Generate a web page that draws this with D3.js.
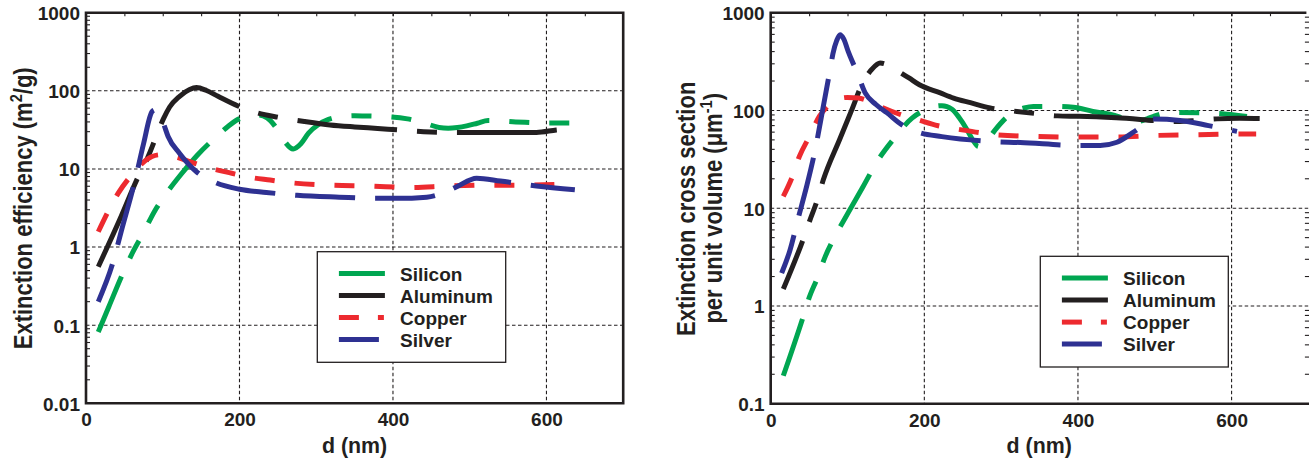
<!DOCTYPE html>
<html><head><meta charset="utf-8">
<script src="https://cdn.jsdelivr.net/npm/d3@7"></script>
<style>
body{margin:0;background:#fff}
svg text{font-family:"Liberation Sans",Arial,Helvetica,sans-serif;font-weight:bold;fill:#231f20}
</style></head>
<body><svg id="chart" width="1309" height="461"></svg>
<script>
// ---------- data ----------
const seriesNames = ["Silicon", "Aluminum", "Copper", "Silver"];
const xTickValues = [0, 200, 400, 600];
const leftYTicks = [0.01, 0.1, 1, 10, 100, 1000];
const leftYTickLabels = ["0.01", "0.1", "1", "10", "100", "1000"];
const rightYTicks = [0.1, 1, 10, 100, 1000];
const rightYTickLabels = ["0.1", "1", "10", "100", "1000"];

// Left panel: extinction efficiency (m^2/g) vs d (nm)
const effSilicon = [[16,0.082],[30,0.175],[48,0.46],[61,0.86],[74,1.47],[89,2.84],[105,4.9],[125,8.8],[145,15],[170,26],[185,35],[196,42],[210,47],[225,49],[236,45],[246,35.6],[258,23],[270,18],[280,21],[290,28.7],[303,37],[316,43],[335,47],[350,48],[370,47.5],[392,46.8],[419,43.7],[444,37.8],[460,34],[472,33.3],[484,34],[496,35.6],[510,38.5],[524,41.6],[560,40],[600,38.6],[637,38.6]];
const effAluminum = [[16,0.56],[46,2.5],[66,7.2],[81,14.4],[86,19],[92,27],[101,44],[109,62],[122,85],[135,104],[144,110],[157,101],[172,85],[198,64],[224,52],[250,46],[285,40.5],[318,36.6],[350,34.5],[380,33],[407,31.6],[440,30],[470,29.4],[530,29.3],[587,29.3],[613,31.6],[637,33]];
const effCopper = [[16,1.57],[42,4.9],[59.5,8.4],[72,11.5],[86,14.4],[97,15.2],[107,15.1],[120,14],[135.5,12.4],[162,10.2],[190,8.8],[214,7.8],[240,7.2],[264,6.7],[318,6.2],[370,6.05],[422,5.8],[472,6.05],[524,6.2],[574,6.2],[628,6.4]];
const effSilver = [[16,0.2],[35,0.63],[46,1.6],[64,7.2],[75,21],[86,54],[90,57],[96,49],[101,38],[107,26],[122,15.8],[144,9.2],[170,6.6],[200,5.5],[235,5],[275,4.6],[330,4.35],[379,4.2],[405,4.2],[444,4.35],[465,4.9],[483,5.9],[509,7.6],[540,7],[587,6.05],[637,5.4]];

// Right panel: extinction cross section per unit volume (um^-1) vs d (nm)
const csSilicon = [[16.4,0.193],[41.7,0.75],[50.3,1.23],[60.7,1.93],[70.7,3.16],[82.5,4.94],[96.8,7.9],[120,16.5],[140,31.3],[160,51],[184,83.6],[200,100],[210,108],[223,112],[236,103],[245,85],[255,64.6],[263,50],[270.5,42.8],[280,47],[292,63],[314,94],[330,106],[342,110],[366,110],[394,108],[419.5,97.7],[444,90.3],[460,83],[477,77],[490,82],[500,88],[522.5,95.4],[575,94],[620,87]];
const csAluminum = [[16.4,1.49],[41.7,4.67],[51.2,7.6],[60,11.7],[68.5,19.5],[90,51],[105,99],[120.7,198],[132,265],[142.4,305],[155,285],[166.3,251],[180,215],[193.6,183],[220,152],[238,134],[260,120],[285.7,106],[320.5,97.7],[350,92],[373.4,88],[400.8,87],[450,84],[529,77],[555,79],[581,82],[610,83],[636.6,82.8]];
const csCopper = [[16.4,13.2],[27.4,20.3],[37.3,33.8],[50.3,54],[63.3,87],[75,112],[88,131],[100,136],[114,134],[128,124],[140,112],[166,92.5],[192,80],[218,69.7],[242,64.6],[294.5,56.4],[346.6,54.2],[398.7,53.4],[450.8,53.4],[501.6,55.5],[554,56.4],[605.9,57.3],[632,57.3]];
const csSilver = [[14.3,2.17],[25,3.7],[36,8],[47,17],[58,40],[68,105],[78,280],[81,380],[86,520],[90.3,596],[95,540],[101,400],[106,320],[112,251],[123,151],[137,115],[151,95],[170,72],[194.5,59],[222.8,54],[285.7,48.2],[324.8,47],[400.8,43.9],[429,43.9],[450.8,47.3],[475,62],[498.5,81.6],[533,79],[570,70],[607,61]];

// ---------- styles ----------
const ink = "#231f20";
const colors = {Silicon:"#00a651", Aluminum:"#231f20", Copper:"#ed2a2f", Silver:"#2e3192"};
const dashes = {Silicon:"60,20,20,20,20,20", Aluminum:"100,20,20,20", Copper:"20,20", Silver:"60,20"};

const svg = d3.select("#chart");

const panels = [
  {x0:86, x1:623.2, yTop:12.7, yBot:403.3, yDomain:[0.01,1000], yTicks:leftYTicks, yLabels:leftYTickLabels,
   data:{Silicon:effSilicon, Aluminum:effAluminum, Copper:effCopper, Silver:effSilver},
   offsets:{Silicon:0, Aluminum:4, Copper:0, Silver:20},
   legend:{x:317.3, y:251.7, w:188.4, h:110.6}, rightLine:true, rightTicks:false, xTitleX:354.6},
  {x0:770.7, x1:1308.4, yTop:12.7, yBot:403.7, yDomain:[0.1,1000], yTicks:rightYTicks, yLabels:rightYTickLabels,
   data:{Silicon:csSilicon, Aluminum:csAluminum, Copper:csCopper, Silver:csSilver},
   offsets:{Silicon:0, Aluminum:48, Copper:0, Silver:20},
   legend:{x:1040.3, y:256.3, w:188, h:110.7}, rightLine:false, rightTicks:true, xTitleX:1039.2}
];

panels.forEach((p, pi) => {
  const g = svg.append("g");
  const x = d3.scaleLinear().domain([0,700]).range([p.x0, p.x1]);
  const y = d3.scaleLog().domain(p.yDomain).range([p.yBot, p.yTop]);

  // gridlines
  const grid = g.append("g").attr("stroke", ink).attr("stroke-width", 1.1).attr("stroke-dasharray", "3.5,2.5").attr("fill","none");
  [200,400,600].forEach(v => grid.append("line").attr("x1", x(v)).attr("x2", x(v)).attr("y1", p.yTop).attr("y2", p.yBot));
  p.yTicks.slice(1, -1).forEach(v => grid.append("line").attr("x1", p.x0).attr("x2", p.x1).attr("y1", y(v)).attr("y2", y(v)));

  // minor ticks (log)
  const minor = y.ticks().filter(v => {
    const m = v / Math.pow(10, Math.floor(Math.log10(v) + 1e-9));
    return Math.abs(m - 1) > 1e-6;
  });
  const tk = g.append("g").attr("stroke", ink).attr("stroke-width", 1.1);
  minor.forEach(v => tk.append("line").attr("x1", p.x0).attr("x2", p.x0 + 4).attr("y1", y(v)).attr("y2", y(v)));
  if (p.rightTicks) minor.forEach(v => tk.append("line").attr("x1", p.x1 - 3.5).attr("x2", p.x1 + 2).attr("y1", y(v)).attr("y2", y(v)));

  // top ticks every 50
  const topAxis = d3.axisTop(x).tickValues(d3.range(50, 700, 50)).tickSize(-3.5).tickFormat("");
  const ta = g.append("g").attr("transform", `translate(0,${p.yTop})`).call(topAxis);
  ta.select(".domain").remove();
  ta.selectAll("line").attr("stroke", ink).attr("stroke-width", 1.1);

  // curves
  const line = d3.line().x(d => x(d[0])).y(d => y(d[1])).curve(d3.curveMonotoneX);
  seriesNames.forEach(name => {
    g.append("path").datum(p.data[name])
      .attr("d", line)
      .attr("fill", "none")
      .attr("stroke", colors[name])
      .attr("stroke-width", 5)
      .attr("stroke-linejoin", "round")
      .attr("stroke-dasharray", dashes[name])
      .attr("stroke-dashoffset", p.offsets[name]);
  });

  // frame
  const fr = g.append("path").attr("fill", "none").attr("stroke", ink).attr("stroke-width", 2.6);
  if (p.rightLine) {
    fr.attr("d", `M${p.x0},${p.yTop}H${p.x1}V${p.yBot}H${p.x0}Z`);
  } else {
    fr.attr("d", `M${p.x1 - 2},${p.yTop}H${p.x0}V${p.yBot}H${p.x1 + 2}`);
  }

  // x tick labels
  const xa = g.append("g").attr("transform", `translate(0,${p.yBot})`)
    .call(d3.axisBottom(x).tickValues(xTickValues).tickSize(0).tickPadding(9.5).tickFormat(d3.format("d")));
  xa.select(".domain").remove();
  xa.selectAll("text").attr("font-size", 19).attr("font-family", null).attr("fill", ink);

  // y tick labels
  const ya = g.append("g").attr("transform", `translate(${p.x0},0)`)
    .call(d3.axisLeft(y).tickValues(p.yTicks).tickSize(0).tickPadding(6).tickFormat((d, i) => p.yLabels[i]));
  ya.select(".domain").remove();
  ya.selectAll("text").attr("font-size", 19).attr("font-family", null).attr("fill", ink).attr("dy", "0.36em");

  // x title
  g.append("text").attr("transform", `translate(${p.xTitleX},453.3) scale(0.93,1)`)
    .attr("text-anchor", "middle").attr("font-size", 23).text("d (nm)");

  // legend
  const L = p.legend;
  const lg = g.append("g");
  lg.append("rect").attr("x", L.x).attr("y", L.y).attr("width", L.w).attr("height", L.h)
    .attr("fill", "#fff").attr("stroke", ink).attr("stroke-width", 1.3);
  seriesNames.forEach((name, i) => {
    const ry = L.y + 21.8 + i * 22;
    const lx = L.x + 21.6;
    if (name === "Copper") {
      lg.append("line").attr("x1", lx).attr("x2", lx + 20).attr("y1", ry).attr("y2", ry).attr("stroke", colors[name]).attr("stroke-width", 5);
      lg.append("line").attr("x1", lx + 39).attr("x2", lx + 45).attr("y1", ry).attr("y2", ry).attr("stroke", colors[name]).attr("stroke-width", 5);
    } else {
      const len = name === "Silver" ? 40 : 46;
      lg.append("line").attr("x1", lx).attr("x2", lx + len).attr("y1", ry).attr("y2", ry).attr("stroke", colors[name]).attr("stroke-width", 5);
    }
    lg.append("text").attr("x", L.x + 82.8).attr("y", ry + 7).attr("font-size", 19).text(name);
  });
});

// y titles
const t1 = svg.append("text").attr("transform", "translate(31.5,208.3) rotate(-90) scale(0.86,1)")
  .attr("text-anchor", "middle").attr("font-size", 25.6);
t1.append("tspan").text("Extinction efficiency (m");
t1.append("tspan").attr("font-size", 17).attr("dy", -10).text("2");
t1.append("tspan").attr("dy", 10).text("/g)");

svg.append("text").attr("transform", "translate(695,208.8) rotate(-90) scale(0.86,1)")
  .attr("text-anchor", "middle").attr("font-size", 25.6).text("Extinction cross section");
const t3 = svg.append("text").attr("transform", "translate(721.5,208.3) rotate(-90) scale(0.86,1)")
  .attr("text-anchor", "middle").attr("font-size", 25.6);
t3.append("tspan").text("per unit volume (\u03bcm");
t3.append("tspan").attr("font-size", 17).attr("dy", -10).text("-1");
t3.append("tspan").attr("dy", 10).text(")");
</script>
</body></html>
